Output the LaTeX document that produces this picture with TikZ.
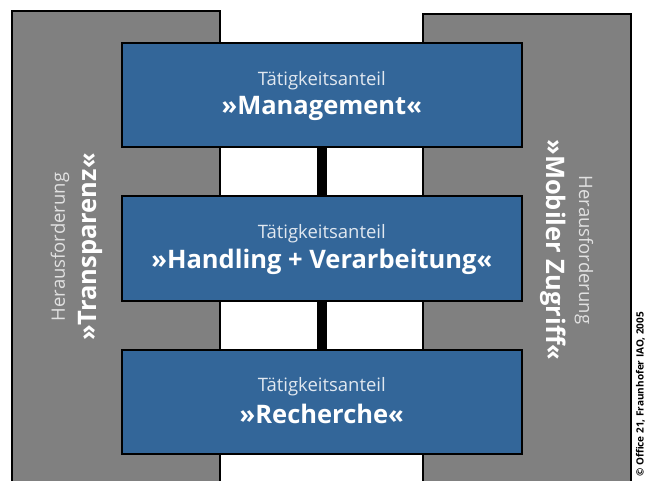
\documentclass[tikz,border=0pt]{standalone}
\usepackage{fontspec}
\setmainfont{Open Sans}
\definecolor{panelgray}{RGB}{128,128,128}
\definecolor{boxblue}{RGB}{51,102,153}
\definecolor{lighttxt}{RGB}{225,232,240}
\definecolor{paneltxt}{RGB}{225,225,225}
\tikzset{
  actbox/.style={draw=black, line width=2pt, fill=boxblue, minimum width=400pt, minimum height=104pt, inner sep=0pt, align=center},
  panel/.style={fill=panelgray},
  panelborder/.style={draw=black, line width=2pt},
  link/.style={draw=black, line width=10pt},
  smalltxt/.style={font=\fontsize{18.5}{22}\selectfont},
  bigtxt/.style={font=\bfseries\fontsize{25.5}{30}\selectfont},
}
\begin{document}
\begin{tikzpicture}[x=1pt,y=-1pt]
\useasboundingbox (0,0) rectangle (645,481);
\fill[white] (0,0) rectangle (645,481);
% panels
\fill[panel] (12,11) rectangle (220,490);
\draw[panelborder] (12,490) -- (12,11) -- (220,11) -- (220,490);
\fill[panel] (423,14) rectangle (631,490);
\draw[panelborder] (423,490) -- (423,14) -- (631,14) -- (631,490);
% panel texts
\node[rotate=90, smalltxt, text=paneltxt] (lh) at (60,247) {Herausforderung};
\node[rotate=90, bigtxt, text=white] (lt) at (90,247) {»Transparenz«};
\node[rotate=-90, smalltxt, text=paneltxt] (rh) at (584,250) {Herausforderung};
\node[rotate=-90, bigtxt, text=white] (rt) at (553,250) {»Mobiler Zugriff«};
% boxes
\node[actbox] (m) at (321.8,95.5) {};
\node[actbox] (h) at (321.8,248.5) {};
\node[actbox] (r) at (321.8,401.5) {};
\draw[link] (m.south) -- (h.north);
\draw[link] (h.south) -- (r.north);
% box texts
\node[smalltxt, text=lighttxt] (mt) at (321.8,81) {Tätigkeitsanteil};
\node[bigtxt, text=white] (mn) at (321.8,108) {»Management«};
\node[smalltxt, text=lighttxt] (ht) at (321.8,234) {Tätigkeitsanteil};
\node[bigtxt, text=white] (hn) at (321.8,262) {»Handling + Verarbeitung«};
\node[smalltxt, text=lighttxt] (rtt) at (321.8,387) {Tätigkeitsanteil};
\node[bigtxt, text=white] (rn) at (321.8,414) {»Recherche«};
% copyright
\node[rotate=90, anchor=base west, inner sep=0pt, font=\bfseries\fontsize{10}{12}\selectfont] (cp) at (643.5,477) {© Office 21, Fraunhofer IAO, 2005};
\end{tikzpicture}
\end{document}
